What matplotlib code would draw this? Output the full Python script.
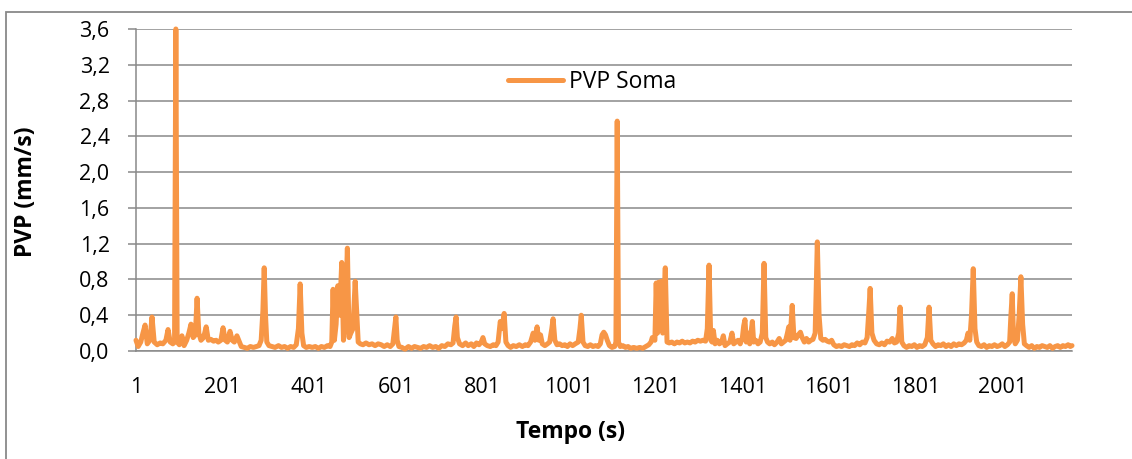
import matplotlib
matplotlib.use("Agg")
import matplotlib.pyplot as plt
from matplotlib.patches import Rectangle

# ---- data (time in s, PVP in mm/s) ----
tempo = [
    1, 6, 12, 17, 22, 27, 33, 38, 43, 50, 57, 63, 70, 75, 80, 86, 90, 93, 96, 101,
    107, 112, 118, 123, 128, 133, 138, 142, 146, 151, 157, 163, 168, 174, 180, 186, 191, 197, 202, 207,
    212, 218, 223, 228, 234, 239, 244, 251, 258, 265, 272, 279, 285, 290, 294, 297, 300, 303, 308, 315,
    322, 330, 337, 344, 351, 358, 365, 371, 376, 380, 384, 388, 394, 401, 408, 415, 422, 429, 436, 443,
    449, 453, 456, 459, 463, 467, 471, 476, 480, 484, 489, 493, 497, 502, 507, 511, 514, 519, 525, 532,
    539, 546, 553, 560, 567, 574, 581, 588, 594, 598, 601, 604, 608, 615, 622, 630, 637, 644, 651, 658,
    665, 672, 679, 686, 693, 700, 707, 714, 721, 728, 733, 737, 740, 743, 748, 755, 762, 768, 775, 781,
    787, 793, 798, 802, 806, 812, 819, 826, 832, 837, 842, 846, 851, 855, 860, 866, 872, 879, 886, 893,
    900, 906, 912, 918, 922, 927, 931, 935, 939, 945, 951, 956, 961, 964, 968, 973, 979, 985, 991, 997,
    1003, 1009, 1015, 1022, 1026, 1029, 1033, 1038, 1044, 1050, 1056, 1062, 1068, 1073, 1077, 1081, 1085, 1089, 1094, 1100,
    1106, 1109, 1112, 1115, 1119, 1125, 1131, 1137, 1143, 1150, 1157, 1164, 1171, 1178, 1185, 1190, 1193, 1199, 1202, 1205,
    1208, 1211, 1214, 1217, 1220, 1223, 1227, 1232, 1238, 1244, 1250, 1256, 1262, 1268, 1274, 1280, 1286, 1292, 1298, 1304,
    1310, 1316, 1320, 1324, 1328, 1331, 1334, 1338, 1343, 1348, 1353, 1357, 1361, 1366, 1372, 1377, 1381, 1386, 1391, 1396,
    1401, 1404, 1407, 1410, 1414, 1418, 1421, 1424, 1427, 1432, 1437, 1442, 1447, 1451, 1455, 1459, 1464, 1470, 1475, 1481,
    1486, 1491, 1496, 1501, 1505, 1508, 1511, 1516, 1520, 1525, 1530, 1535, 1539, 1544, 1549, 1554, 1559, 1564, 1569, 1574,
    1578, 1582, 1587, 1592, 1597, 1602, 1607, 1612, 1618, 1624, 1630, 1636, 1642, 1648, 1654, 1660, 1666, 1672, 1678, 1684,
    1689, 1693, 1696, 1700, 1705, 1711, 1717, 1723, 1729, 1735, 1741, 1747, 1752, 1757, 1762, 1765, 1769, 1774, 1780, 1786,
    1792, 1798, 1804, 1810, 1816, 1822, 1828, 1832, 1836, 1841, 1847, 1853, 1859, 1865, 1871, 1877, 1883, 1889, 1895, 1901,
    1907, 1913, 1918, 1922, 1926, 1930, 1934, 1938, 1942, 1947, 1953, 1959, 1965, 1971, 1977, 1983, 1989, 1995, 2001, 2007,
    2013, 2018, 2021, 2024, 2027, 2031, 2036, 2040, 2044, 2048, 2052, 2057, 2063, 2069, 2075, 2081, 2087, 2093, 2099, 2105,
    2111, 2117, 2123, 2129, 2135, 2141, 2147, 2153, 2158, 2162,
]
pvp_soma = [
    0.12, 0.05, 0.10, 0.20, 0.29, 0.08, 0.12, 0.38, 0.10, 0.07, 0.09, 0.08, 0.12, 0.24, 0.10, 0.08, 0.10, 3.60, 0.10, 0.07,
    0.17, 0.06, 0.12, 0.20, 0.30, 0.15, 0.18, 0.59, 0.20, 0.12, 0.15, 0.27, 0.12, 0.13, 0.11, 0.12, 0.10, 0.12, 0.26, 0.12,
    0.10, 0.22, 0.12, 0.10, 0.17, 0.11, 0.05, 0.04, 0.03, 0.05, 0.04, 0.05, 0.06, 0.12, 0.45, 0.93, 0.40, 0.10, 0.06, 0.05,
    0.04, 0.06, 0.04, 0.05, 0.03, 0.05, 0.04, 0.07, 0.25, 0.75, 0.20, 0.06, 0.04, 0.05, 0.04, 0.05, 0.03, 0.05, 0.04, 0.06,
    0.05, 0.10, 0.69, 0.12, 0.30, 0.73, 0.40, 0.99, 0.12, 0.35, 1.15, 0.15, 0.20, 0.25, 0.78, 0.40, 0.10, 0.08, 0.07, 0.09,
    0.07, 0.08, 0.06, 0.08, 0.07, 0.05, 0.07, 0.05, 0.08, 0.25, 0.38, 0.12, 0.05, 0.04, 0.02, 0.05, 0.03, 0.05, 0.04, 0.03,
    0.05, 0.04, 0.06, 0.04, 0.05, 0.03, 0.06, 0.05, 0.08, 0.07, 0.09, 0.28, 0.38, 0.15, 0.08, 0.06, 0.09, 0.06, 0.08, 0.05,
    0.09, 0.07, 0.10, 0.15, 0.08, 0.06, 0.05, 0.07, 0.06, 0.10, 0.33, 0.25, 0.42, 0.10, 0.06, 0.04, 0.06, 0.05, 0.07, 0.05,
    0.07, 0.06, 0.10, 0.20, 0.12, 0.27, 0.12, 0.18, 0.08, 0.06, 0.08, 0.10, 0.25, 0.36, 0.12, 0.07, 0.08, 0.06, 0.07, 0.05,
    0.08, 0.06, 0.08, 0.10, 0.25, 0.40, 0.10, 0.06, 0.05, 0.07, 0.05, 0.06, 0.05, 0.08, 0.18, 0.21, 0.18, 0.12, 0.06, 0.04,
    0.05, 0.10, 2.57, 0.10, 0.05, 0.06, 0.04, 0.05, 0.03, 0.04, 0.03, 0.04, 0.03, 0.05, 0.07, 0.10, 0.15, 0.12, 0.76, 0.20,
    0.77, 0.25, 0.78, 0.20, 0.60, 0.93, 0.10, 0.09, 0.10, 0.08, 0.10, 0.09, 0.11, 0.09, 0.10, 0.09, 0.11, 0.10, 0.12, 0.11,
    0.12, 0.11, 0.25, 0.96, 0.12, 0.10, 0.23, 0.08, 0.12, 0.08, 0.10, 0.17, 0.06, 0.08, 0.10, 0.20, 0.08, 0.10, 0.12, 0.08,
    0.15, 0.28, 0.35, 0.10, 0.20, 0.08, 0.20, 0.33, 0.10, 0.12, 0.08, 0.10, 0.20, 0.98, 0.15, 0.10, 0.08, 0.10, 0.07, 0.10,
    0.14, 0.08, 0.10, 0.12, 0.20, 0.27, 0.12, 0.51, 0.15, 0.14, 0.18, 0.21, 0.15, 0.10, 0.14, 0.10, 0.12, 0.13, 0.20, 1.22,
    0.40, 0.14, 0.12, 0.13, 0.11, 0.10, 0.12, 0.07, 0.05, 0.06, 0.05, 0.07, 0.06, 0.05, 0.07, 0.06, 0.09, 0.07, 0.10, 0.09,
    0.15, 0.45, 0.70, 0.20, 0.12, 0.08, 0.07, 0.09, 0.07, 0.11, 0.10, 0.14, 0.09, 0.10, 0.20, 0.49, 0.10, 0.06, 0.04, 0.06,
    0.05, 0.07, 0.04, 0.06, 0.05, 0.07, 0.15, 0.49, 0.12, 0.08, 0.05, 0.07, 0.06, 0.08, 0.05, 0.07, 0.05, 0.08, 0.06, 0.08,
    0.07, 0.09, 0.12, 0.20, 0.12, 0.40, 0.92, 0.25, 0.10, 0.06, 0.05, 0.07, 0.04, 0.06, 0.05, 0.07, 0.05, 0.06, 0.08, 0.05,
    0.07, 0.10, 0.40, 0.64, 0.15, 0.08, 0.12, 0.40, 0.83, 0.30, 0.08, 0.06, 0.04, 0.06, 0.03, 0.05, 0.04, 0.06, 0.05, 0.04,
    0.06, 0.03, 0.05, 0.06, 0.04, 0.06, 0.05, 0.07, 0.05, 0.06,
]
serie_nome = "PVP Soma"
x_ticks = [1, 201, 401, 601, 801, 1001, 1201, 1401, 1601, 1801, 2001]
y_ticks = [0.0, 0.4, 0.8, 1.2, 1.6, 2.0, 2.4, 2.8, 3.2, 3.6]
x_label = "Tempo (s)"
y_label = "PVP (mm/s)"

# ---- styling ----
FONT = "Open Sans"
plt.rcParams["font.family"] = [FONT, "DejaVu Sans"]
ORANGE = "#F79646"
GRID = "#898989"

W, H = 1132, 459
fig = plt.figure(figsize=(W / 100, H / 100), dpi=100)

ax_l, ax_r, ax_t, ax_b = 136, 1072, 29, 351
ax = fig.add_axes([ax_l / W, 1 - ax_b / H, (ax_r - ax_l) / W, (ax_b - ax_t) / H])

ax.plot(tempo, pvp_soma, color=ORANGE, lw=3.6, solid_joinstyle="round",
        solid_capstyle="round", label=serie_nome, clip_on=False, zorder=3)

ax.set_xlim(1, 2162)
ax.set_ylim(0, 3.6)
ax.set_xticks(x_ticks)
ax.set_xticklabels([str(v) for v in x_ticks])
ax.set_yticks(y_ticks)
ax.set_yticklabels([f"{v:.1f}".replace(".", ",") for v in y_ticks])

ax.grid(axis="y", color=GRID, lw=1.1, zorder=0)
ax.set_axisbelow(True)
for s in ["top", "right"]:
    ax.spines[s].set_visible(False)
for s in ["left", "bottom"]:
    ax.spines[s].set_color(GRID)
    ax.spines[s].set_linewidth(1.1)

ax.tick_params(axis="y", length=6, width=1.1, color=GRID, pad=13, labelsize=15.5)
ax.tick_params(axis="x", length=0, pad=19, labelsize=15.5)

leg = ax.legend(loc="center left", bbox_to_anchor=((508 - ax_l) / (ax_r - ax_l), (ax_b - 82) / (ax_b - ax_t)),
                frameon=False, fontsize=16.5, handlelength=2.4, handletextpad=0.25,
                borderpad=0, borderaxespad=0)

fig.text(26 / W, 1 - 192 / H, y_label, rotation=90, ha="center", va="center",
         fontsize=16.5, fontweight="bold")
fig.text(571 / W, 1 - 432 / H, x_label, ha="center", va="center",
         fontsize=16.5, fontweight="bold")

# chart-area border (cut off at right and bottom like the reference)
fig.patches.append(Rectangle((5.5 / W, -0.1), 1.2, 1.1 - 12 / H, transform=fig.transFigure,
                             fill=False, edgecolor=GRID, lw=1.3))

fig.savefig("out.png", dpi=100)
